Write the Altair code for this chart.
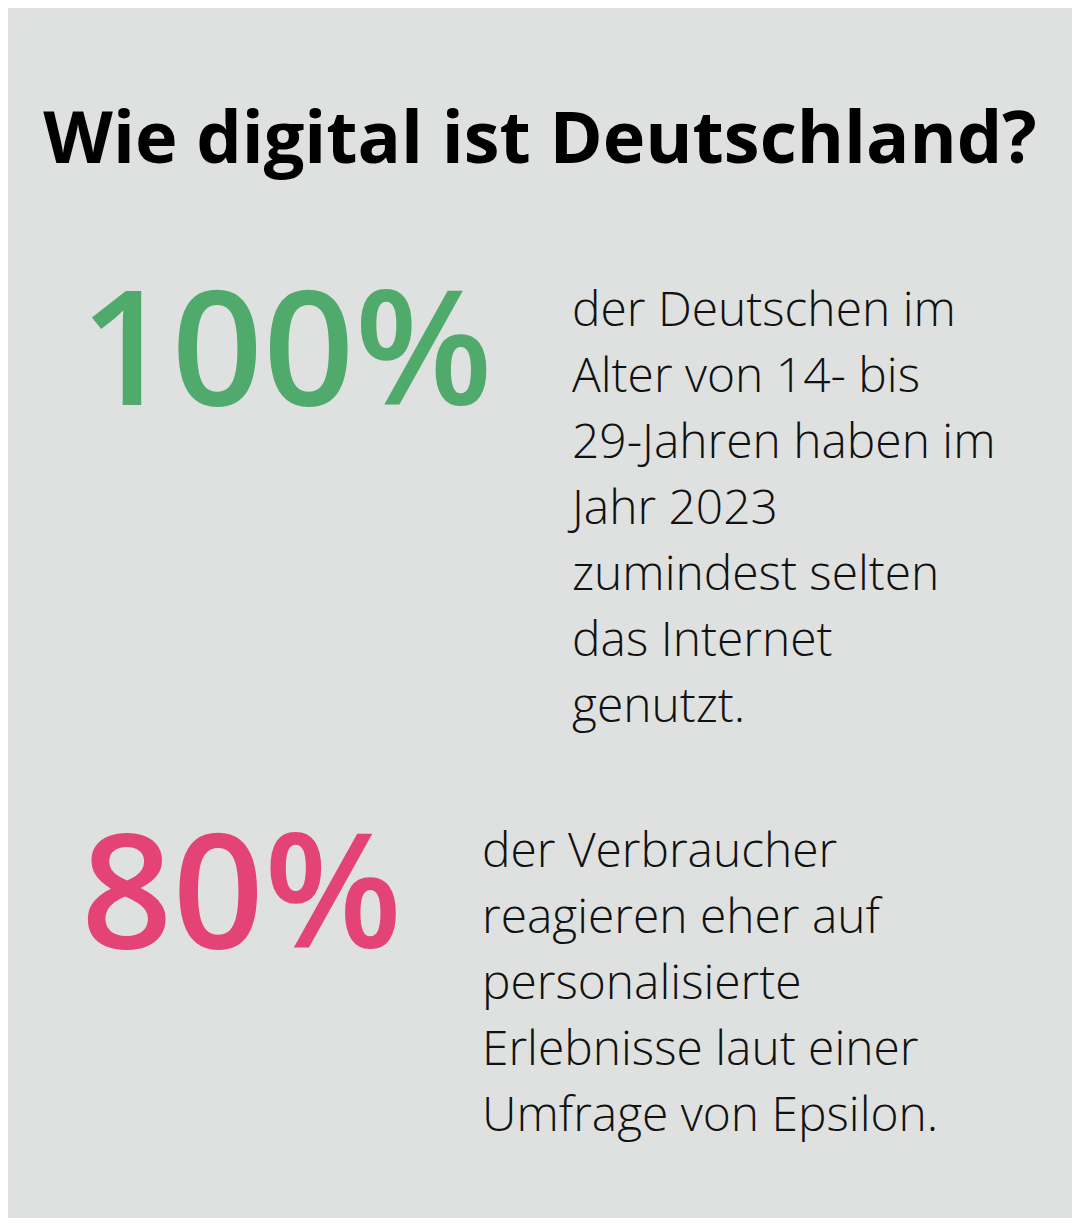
import altair as alt
import pandas as pd

title_text = "Wie digital ist Deutschland?"
stat_values = ["100%", "80%"]
stat_colors = ["#4faa6c", "#e44376"]
block1_lines = ["der Deutschen im", "Alter von 14- bis", "29-Jahren haben im",
                "Jahr 2023", "zumindest selten", "das Internet", "genutzt."]
block2_lines = ["der Verbraucher", "reagieren eher auf", "personalisierte",
                "Erlebnisse laut einer", "Umfrage von Epsilon."]

M = 8  # page margin
FONT = "Open Sans"
base = alt.Chart(pd.DataFrame({"k": [0]}))

title = base.mark_text(text=title_text, font=FONT, fontSize=72, fontWeight="bold",
                       color="#000000", align="center", baseline="alphabetic").encode(
    x=alt.value(540 - M), y=alt.value(163 - M))

stat1 = base.mark_text(text=stat_values[0], font=FONT, fontSize=160, fontWeight=600,
                       color=stat_colors[0], align="left", baseline="alphabetic").encode(
    x=alt.value(80 - M), y=alt.value(405 - M))

stat2 = base.mark_text(text=stat_values[1], font=FONT, fontSize=160, fontWeight=600,
                       color=stat_colors[1], align="left", baseline="alphabetic").encode(
    x=alt.value(81 - M), y=alt.value(948 - M))

body1 = base.mark_text(text=block1_lines, font=FONT, fontSize=47.9, fontWeight=300,
                       lineHeight=66, color="#111111", align="left", baseline="alphabetic").encode(
    x=alt.value(572 - M), y=alt.value(326 - M))

body2 = base.mark_text(text=block2_lines, font=FONT, fontSize=47.9, fontWeight=300,
                       lineHeight=66, color="#111111", align="left", baseline="alphabetic").encode(
    x=alt.value(482 - M), y=alt.value(867 - M))

chart = alt.layer(title, stat1, stat2, body1, body2).properties(
    width=1080 - 2 * M, height=1226 - 2 * M, padding=0, background="#dfe1e0",
    autosize=alt.AutoSizeParams(type="none")
).configure_view(strokeWidth=0)

chart.save("out.html", embed_options={"renderer": "svg", "actions": False})
